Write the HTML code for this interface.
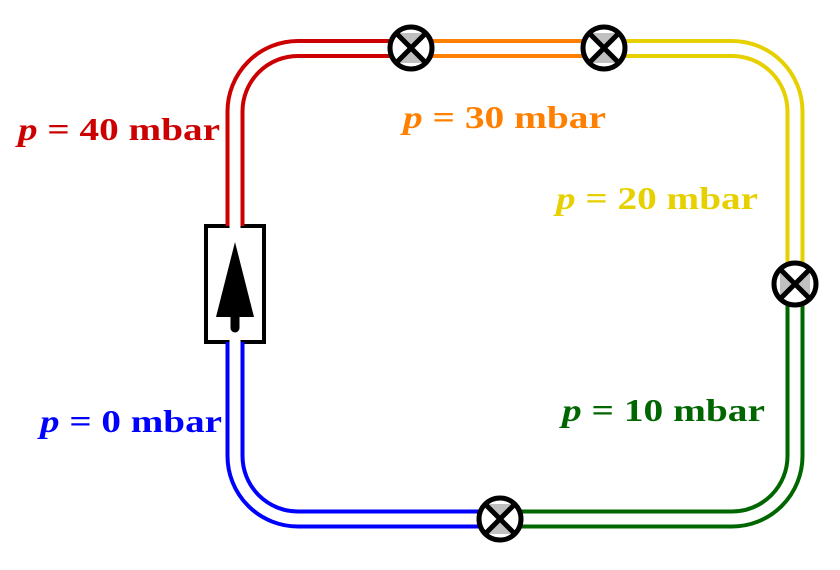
<!DOCTYPE html>
<html><head><meta charset="utf-8"><style>body{margin:0;background:#fff}svg{display:block}
.t{font-family:"Liberation Serif","DejaVu Serif",serif;font-weight:bold;font-size:32px}
</style></head>
<body>
<svg width="840" height="570" viewBox="0 0 840 570" xmlns="http://www.w3.org/2000/svg">
<g fill="none" stroke-linecap="butt">
<rect x="206" y="226" width="58" height="116" stroke="#000" stroke-width="4" fill="#fff"/>
<g stroke-width="19">
<path d="M235,226 V111.5 A63 63 0 0 1 298 48.5 H411" stroke="#cc0000"/>
<path d="M411 48.5 H604" stroke="#ff8000"/>
<path d="M604 48.5 H732 A63 63 0 0 1 795 111.5 V284" stroke="#e6d000"/>
<path d="M795 284 V456 A63 63 0 0 1 732 519 H500" stroke="#006600"/>
<path d="M500 519 H298 A63 63 0 0 1 235 456 V342" stroke="#0000ff"/>
</g>
<g stroke-width="11" stroke="#fff">
<path d="M235,228 V111.5 A63 63 0 0 1 298 48.5 H411"/>
<path d="M411 48.5 H604"/>
<path d="M604 48.5 H732 A63 63 0 0 1 795 111.5 V284"/>
<path d="M795 284 V456 A63 63 0 0 1 732 519 H500"/>
<path d="M500 519 H298 A63 63 0 0 1 235 456 V340"/>
</g>
</g>
<polygon points="235,242 216,317 254,317" fill="#000"/>
<line x1="235" y1="315" x2="235" y2="328" stroke="#000" stroke-width="9" stroke-linecap="round"/>
<defs>
<g id="vh">
<circle r="21" fill="#fff"/>
<polygon points="-15,-15 15,-15 0,0 15,15 -15,15 0,0" fill="#c0c0c0"/>
<line x1="-15" y1="-15" x2="15" y2="15" stroke="#000" stroke-width="5"/>
<line x1="15" y1="-15" x2="-15" y2="15" stroke="#000" stroke-width="5"/>
<circle r="21" fill="none" stroke="#000" stroke-width="5"/>
</g>
</defs>
<use href="#vh" x="411" y="48"/>
<use href="#vh" x="604" y="48"/>
<use href="#vh" x="500" y="519"/>
<use href="#vh" transform="translate(795,284) rotate(90)"/>
<text class="t" x="18" y="140" fill="#cc0000" textLength="202" lengthAdjust="spacingAndGlyphs"><tspan font-style="italic">p</tspan> = 40 mbar</text>
<text class="t" x="403" y="128" fill="#ff8000" textLength="203" lengthAdjust="spacingAndGlyphs"><tspan font-style="italic">p</tspan> = 30 mbar</text>
<text class="t" x="556" y="209" fill="#e6d000" textLength="202" lengthAdjust="spacingAndGlyphs"><tspan font-style="italic">p</tspan> = 20 mbar</text>
<text class="t" x="562" y="421" fill="#006600" textLength="203" lengthAdjust="spacingAndGlyphs"><tspan font-style="italic">p</tspan> = 10 mbar</text>
<text class="t" x="40" y="432" fill="#0000ff" textLength="182" lengthAdjust="spacingAndGlyphs"><tspan font-style="italic">p</tspan> = 0 mbar</text>
</svg>
</body></html>
